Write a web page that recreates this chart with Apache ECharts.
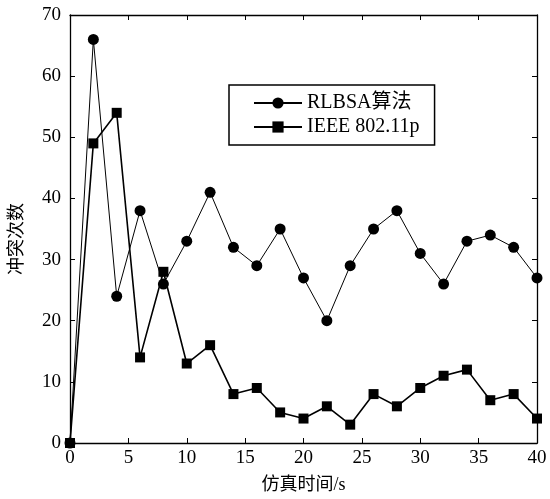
<!DOCTYPE html>
<html>
<head>
<meta charset="utf-8">
<script src="https://cdn.jsdelivr.net/npm/echarts@6/dist/echarts.min.js"></script>
<style>html,body{margin:0;padding:0;background:#fff}#c{width:550px;height:499px}</style>
</head>
<body>
<div id="c"></div>
<script>
const times = [0,2,4,6,8,10,12,14,16,18,20,22,24,26,28,30,32,34,36,38,40];
const rlbsa = [0,66,24,38,26,33,41,32,29,35,27,20,29,35,38,31,26,33,34,32,27];
const ieee = [0,49,54,14,28,13,16,8,9,5,4,6,3,8,6,9,11,12,7,8,4];
const seriesNames = ['RLBSA算法','IEEE 802.11p'];
const xTitle = '仿真时间/s';
const yTitle = '冲突次数';

const font = 'Liberation Serif, Times New Roman, Noto Sans CJK SC, serif';
const pair = (xs, ys) => xs.map((x, i) => [x, ys[i]]);
const axisLine = {show: true, onZero: false, lineStyle: {color: '#000', width: 1.3}};
const tick = {show: true, inside: true, length: 5, lineStyle: {color: '#000', width: 1}};

const chart = echarts.init(document.getElementById('c'));
chart.setOption({
  backgroundColor: '#fff',
  animation: false,
  grid: {left: 70, right: 13, top: 15, bottom: 54},
  legend: {
    orient: 'vertical', left: 229, top: 85,
    padding: [8, 15, 8, 24],
    itemGap: 4, itemWidth: 48, itemHeight: 14,
    borderColor: '#000', borderWidth: 1.5,
    textStyle: {fontFamily: font, fontSize: 20, color: '#000'},
    data: seriesNames
  },
  xAxis: [{
    type: 'value', min: 0, max: 40, interval: 5,
    name: xTitle, nameLocation: 'middle', nameGap: 33,
    nameTextStyle: {fontFamily: font, fontSize: 18, color: '#000'},
    axisLine, axisTick: tick, splitLine: {show: false},
    axisLabel: {fontFamily: font, fontSize: 19, color: '#000', margin: 6}
  }, {
    type: 'value', position: 'top', min: 0, max: 40, interval: 5,
    axisLine, axisTick: tick, splitLine: {show: false}, axisLabel: {show: false}
  }],
  yAxis: [{
    type: 'value', min: 0, max: 70, interval: 10,
    name: yTitle, nameLocation: 'middle', nameGap: 44,
    nameTextStyle: {fontFamily: font, fontSize: 18, color: '#000', padding: [0, 20, 0, 0]},
    axisLine, axisTick: tick, splitLine: {show: false},
    axisLabel: {fontFamily: font, fontSize: 19, color: '#000', margin: 9}
  }, {
    type: 'value', position: 'right', min: 0, max: 70, interval: 10,
    axisLine, axisTick: tick, splitLine: {show: false}, axisLabel: {show: false}
  }],
  series: [{
    name: seriesNames[0], type: 'line', data: pair(times, rlbsa),
    symbol: 'circle', symbolSize: 11,
    lineStyle: {color: '#000', width: 1},
    itemStyle: {color: '#000'}
  }, {
    name: seriesNames[1], type: 'line', data: pair(times, ieee),
    symbol: 'rect', symbolSize: 10,
    lineStyle: {color: '#000', width: 1.6},
    itemStyle: {color: '#000'}
  }]
});
</script>
</body>
</html>
